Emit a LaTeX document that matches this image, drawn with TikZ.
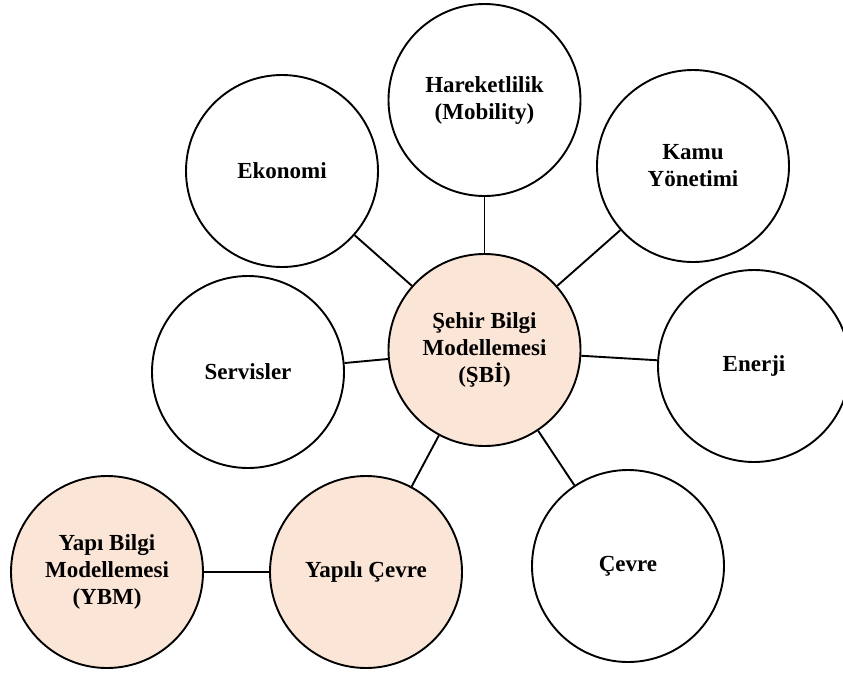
\documentclass[tikz,border=0pt]{standalone}
\usepackage{fontspec}
\setmainfont{Liberation Serif}
\definecolor{peach}{HTML}{FBE5D6}
\tikzset{
  topic/.style={circle, draw=black, line width=1.9pt, fill=white,
    minimum size=192pt, inner sep=0pt, align=center,
    font=\bfseries\fontsize{23}{27}\selectfont},
  core/.style={topic, fill=peach},
  link/.style={draw=black, line width=1.9pt}
}
\begin{document}
\begin{tikzpicture}[x=1pt, y=-1pt]
  \useasboundingbox (0,0) rectangle (843,673);
  % central node and surrounding themes
  \node[core]  (sbi) at (484.5,350) {Şehir Bilgi\\Modellemesi\\(ŞBİ)};
  \node[topic] (har) at (484.5,100) {Hareketlilik\\(Mobility)};
  \node[topic] (eko) at (282,171) {Ekonomi};
  \node[topic] (kam) at (693,166) {Kamu\\Yönetimi};
  \node[topic] (ser) at (248,372) {Servisler};
  \node[topic] (ene) at (754,366) {Enerji};
  \node[topic] (cev) at (628,566) {Çevre};
  \node[core]  (yce) at (366,572) {Yapılı Çevre};
  \node[core]  (ybm) at (107,572) {Yapı Bilgi\\Modellemesi\\(YBM)};
  % connectors
  \draw[link] (sbi) -- (har);
  \draw[link] (sbi) -- (eko);
  \draw[link] (sbi) -- (kam);
  \draw[link] (sbi) -- (ser);
  \draw[link] (sbi) -- (ene);
  \draw[link] (sbi) -- (cev);
  \draw[link] (sbi) -- (yce);
  \draw[link] (yce) -- (ybm);
\end{tikzpicture}
\end{document}
